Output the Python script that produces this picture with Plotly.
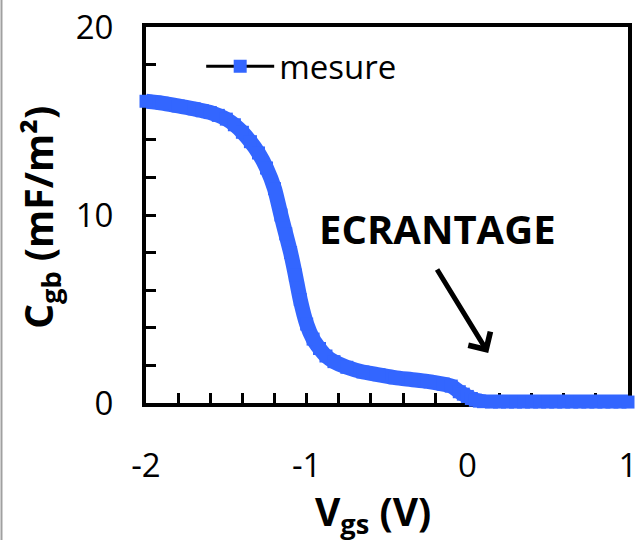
import plotly.graph_objects as go

# Data
vgs = [-2.00, -1.90, -1.80, -1.70, -1.65, -1.60, -1.55, -1.50, -1.45, -1.40,
       -1.35, -1.30, -1.25, -1.20, -1.16, -1.13, -1.10, -1.07, -1.04, -1.00,
       -0.96, -0.92, -0.88, -0.83, -0.75, -0.65, -0.55, -0.45, -0.35, -0.25,
       -0.15, -0.10, -0.05, -0.025, 0.00, 0.025, 0.05, 0.075, 0.10, 0.15,
       0.20, 0.25, 0.30, 0.35, 0.40, 0.45, 0.50, 0.55, 0.60, 0.65,
       0.70, 0.75, 0.80, 0.85, 0.90, 0.95, 1.00]
cgb = [16.05, 15.95, 15.8, 15.65, 15.55, 15.45, 15.3, 15.1, 14.8, 14.4,
       13.9, 13.3, 12.5, 11.4, 10.0, 9.0, 8.0, 6.8, 5.5, 4.2,
       3.4, 2.9, 2.5, 2.2, 1.9, 1.65, 1.5, 1.35, 1.25, 1.15,
       1.0, 0.9, 0.6, 0.47, 0.35, 0.24, 0.15, 0.1, 0.07, 0.05,
       0.05, 0.05, 0.05, 0.05, 0.05, 0.05, 0.05, 0.05, 0.05, 0.05,
       0.05, 0.05, 0.05, 0.05, 0.05, 0.05, 0.05]
series_name = "mesure"
x_ticks = [-2, -1, 0, 1]
x_ticktext = ["-2", "-1", "0", "1"]
y_ticks = [0, 10, 20]
blue = "#3366FF"
font_family = "Open Sans"

fig = go.Figure()
fig.add_trace(go.Scatter(
    x=vgs, y=cgb, mode="lines+markers",
    line=dict(color=blue, width=15, shape="spline", smoothing=0.6),
    marker=dict(symbol="square", size=13, color=blue),
    cliponaxis=False, showlegend=False, hoverinfo="skip"))
fig.add_trace(go.Scatter(
    x=[None], y=[None], mode="lines+markers", name=series_name,
    line=dict(color="black", width=3),
    marker=dict(symbol="square", size=13, color=blue)))

axis_common = dict(
    showgrid=False, zeroline=False, showline=True, linecolor="black",
    linewidth=4, mirror=True, ticks="inside", ticklen=10, tickwidth=3,
    tickcolor="black", automargin=False, layer="below traces",
    ticklabeloverflow="allow",
    tickfont=dict(family=font_family, size=33, color="black"))

fig.update_xaxes(range=[-2, 1], tickvals=x_ticks, ticktext=x_ticktext,
                 ticklabelstandoff=30,
                 minor=dict(dtick=0.2, ticks="inside", ticklen=10, tickwidth=3,
                            tickcolor="black"),
                 **axis_common)
fig.update_yaxes(range=[0, 20], tickvals=y_ticks, ticklabelstandoff=22,
                 minor=dict(dtick=2, ticks="inside", ticklen=10, tickwidth=3,
                            tickcolor="black"),
                 **axis_common)

fig.add_annotation(
    x=0.13, y=2.66, ax=-0.194, ay=7.18, xref="x", yref="y", axref="x", ayref="y",
    showarrow=True, arrowhead=4, arrowsize=1, arrowwidth=5, arrowcolor="black",
    text="")
fig.add_annotation(
    x=-0.185, y=9.3, xref="x", yref="y", text="<b>ECRANTAGE</b>", showarrow=False,
    xanchor="center", yanchor="middle",
    font=dict(family=font_family, size=40, color="black"))
fig.add_annotation(
    x=0.47, y=-0.2926, xref="paper", yref="paper",
    xanchor="center", yanchor="middle",
    text="<b>V<sub>gs</sub> (V)</b>", showarrow=False,
    font=dict(family=font_family, size=39, color="black"))
fig.add_annotation(
    x=-0.22, y=0.495, xref="paper", yref="paper", textangle=-90,
    xanchor="center", yanchor="middle",
    text="<b>C<sub>gb</sub> (mF/m²)</b>", showarrow=False,
    font=dict(family=font_family, size=39, color="black"))

fig.add_shape(type="line", xref="paper", yref="paper",
              x0=-0.2998, x1=-0.2998, y0=-0.4, y1=1.1,
              line=dict(color="#A0A0A0", width=2))

fig.update_layout(
    width=635, height=540,
    margin=dict(l=146, r=7, t=27, b=137),
    paper_bgcolor="white", plot_bgcolor="white",
    legend=dict(x=0.1145, y=0.8955, xanchor="left", yanchor="middle",
                bgcolor="rgba(0,0,0,0)", itemwidth=68,
                font=dict(family=font_family, size=33, color="black")),
)

fig.write_html("out.html")
